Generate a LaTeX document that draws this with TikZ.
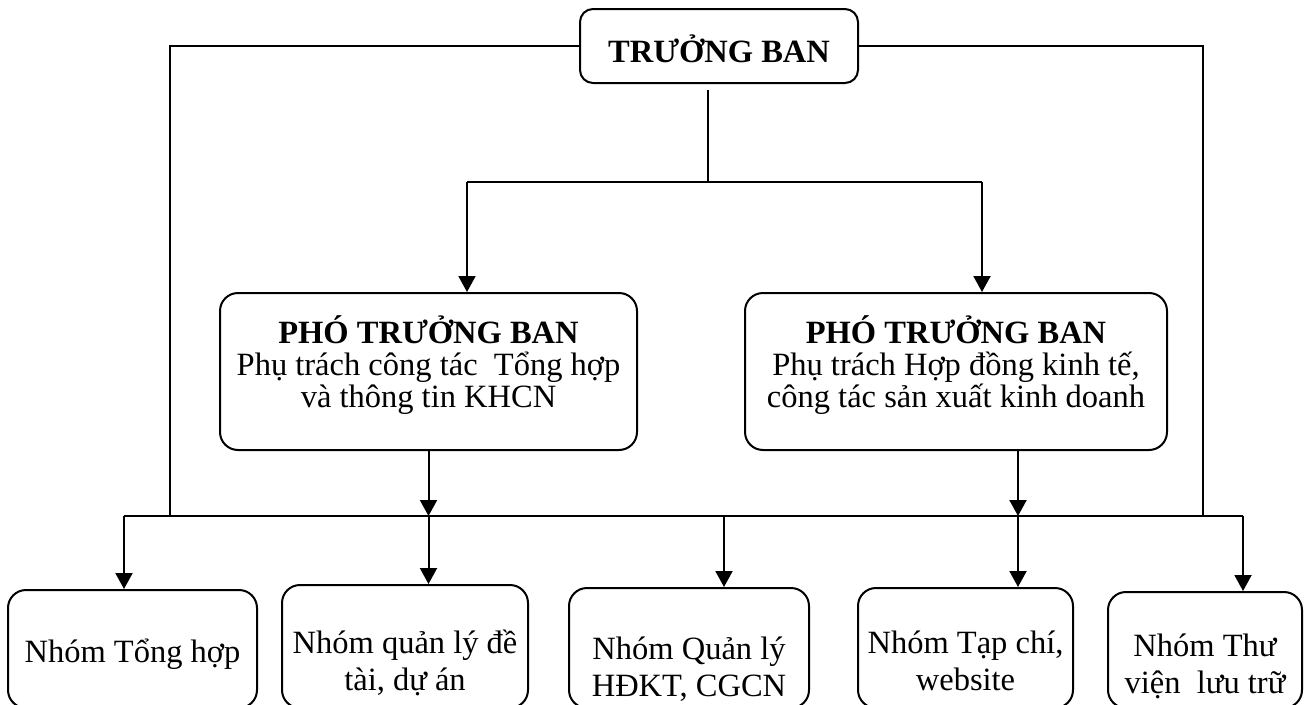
\documentclass[tikz,border=0pt]{standalone}
\usepackage{fontspec}
\setmainfont{Liberation Serif}
\usetikzlibrary{arrows.meta}
\begin{document}
\begin{tikzpicture}[x=1pt,y=-1pt,line width=2pt,
  box/.style={draw,rounded corners=18pt,inner sep=0pt},
  txt/.style={anchor=base,inner sep=0pt,font=\fontsize{32.5}{35}\selectfont},
  txtb/.style={anchor=base,inner sep=0pt,font=\fontsize{32.5}{35}\selectfont\bfseries},
  arr/.style={-{Triangle[length=16pt,width=17pt]}}]
\clip (0,0) rectangle (1306,704);
% boxes
\node[box,rounded corners=13pt,minimum width=278pt,minimum height=74pt] (top) at (719,46) {};
\node[box,minimum width=417pt,minimum height=157pt] (p1) at (428.5,371.5) {};
\node[box,minimum width=422pt,minimum height=157pt] (p2) at (956,371.5) {};
\node[box,minimum width=249pt,minimum height=118pt] (b1) at (132.5,649) {};
\node[box,minimum width=246pt,minimum height=123pt] (b2) at (405,646.5) {};
\node[box,minimum width=240pt,minimum height=120pt] (b3) at (689,648) {};
\node[box,minimum width=215pt,minimum height=120pt] (b4) at (965.5,648) {};
\node[box,minimum width=194pt,minimum height=116pt] (b5) at (1205,650) {};
% texts
\node[txtb] (t0) at (719,62) {TRƯỞNG BAN};
\node[txtb] (t1a) at (428.5,343) {PHÓ TRƯỞNG BAN};
\node[txt] (t1b) at (428.5,375) {Phụ trách công tác~ Tổng hợp};
\node[txt] (t1c) at (428.5,407) {và thông tin KHCN};
\node[txtb] (t2a) at (956,343) {PHÓ TRƯỞNG BAN};
\node[txt] (t2b) at (956,375) {Phụ trách Hợp đồng kinh tế,};
\node[txt] (t2c) at (956,407) {công tác sản xuất kinh doanh};
\node[txt] (s1) at (132.5,662) {Nhóm Tổng hợp};
\node[txt] (s2a) at (405,653) {Nhóm quản lý đề};
\node[txt] (s2b) at (405,690) {tài, dự án};
\node[txt] (s3a) at (689,659) {Nhóm Quản lý};
\node[txt] (s3b) at (689,696) {HĐKT, CGCN};
\node[txt] (s4a) at (965.5,653) {Nhóm Tạp chí,};
\node[txt] (s4b) at (965.5,690) {website};
\node[txt] (s5a) at (1205,656) {Nhóm Thư};
\node[txt] (s5b) at (1205,693) {viện~ lưu trữ};
% coordinates
\coordinate (split) at (708,182);
\coordinate (hL) at (467,182);
\coordinate (hR) at (982,182);
\coordinate (busL) at (124,516);
\coordinate (busR) at (1243,516);
\coordinate (lfoot) at (170,516);
\coordinate (rfoot) at (1203,516);
\coordinate (k3) at (724,516);
\coordinate (d2) at (1018,516);
% connectors
\draw (top.west) -| (lfoot);
\draw (top.east) -| (rfoot);
\draw[shorten <=6pt] (split |- top.south) -- (split);
\draw (hL) -- (hR);
\draw[arr] (hL) -- (hL |- p1.north);
\draw[arr] (hR) -- (hR |- p2.north);
\draw (busL) -- (busR);
\draw[arr] (p1.south) -- (p1.south |- busL);
\draw[arr] (d2 |- p2.south) -- (d2);
\draw[arr] (busL) -- (busL |- b1.north);
\draw[arr] (p1.south |- busL) -- (p1.south |- b2.north);
\draw[arr] (k3) -- (k3 |- b3.north);
\draw[arr] (d2) -- (d2 |- b4.north);
\draw[arr] (busR) -- (busR |- b5.north);
\end{tikzpicture}
\end{document}
